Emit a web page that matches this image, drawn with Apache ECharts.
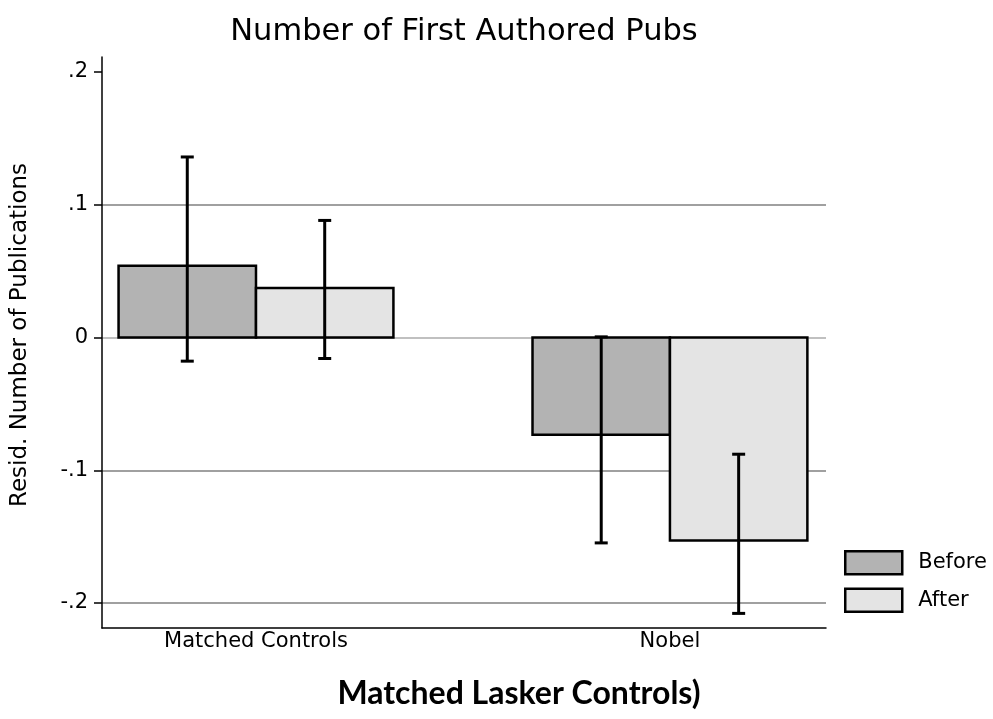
<!DOCTYPE html>
<html>
<head>
<meta charset="utf-8">
<script src="https://cdn.jsdelivr.net/npm/echarts@6/dist/echarts.min.js"></script>
<style>
  html, body { margin: 0; padding: 0; background: #fff; }
  #chart { width: 993px; height: 719px; }
</style>
</head>
<body>
<div id="chart"></div>
<script>
// ---- data ----
const categories = ['Matched Controls', 'Nobel'];
const seriesNames = ['Before', 'After'];
const beforeMean = [0.054, -0.0733];
const beforeLo = [-0.0178, -0.1547];
const beforeHi = [0.136, 0.0005];
const afterMean = [0.0373, -0.1529];
const afterLo = [-0.0158, -0.2078];
const afterHi = [0.0882, -0.0879];
const yTicks = [-0.2, -0.1, 0, 0.1, 0.2];
const titleText = 'Number of First Authored Pubs';
const yAxisTitle = 'Resid. Number of Publications';
const footText = 'Matched Lasker Controls)';

// ---- layout / style ----
const HALF = 0.332;
const FONT = '"DejaVu Sans", sans-serif';
const fills = ['#b3b3b3', '#e4e4e4'];

function fmtTick(v) {
  if (v === 0) return '0';
  const s = String(Math.abs(v)).replace(/^0/, '');
  return (v < 0 ? '-' : '') + s;
}

function buildData(mean, lo, hi) {
  return categories.map((c, i) => [i + 1, mean[i], lo[i], hi[i]]);
}

function makeRender(side, fill) {
  return function (params, api) {
    const x = api.value(0), v = api.value(1), lo = api.value(2), hi = api.value(3);
    const x0 = side < 0 ? x - HALF : x;
    const x1 = side < 0 ? x : x + HALF;
    const p0 = api.coord([x0, v]);
    const p1 = api.coord([x1, 0]);
    const xc = api.coord([(x0 + x1) / 2, 0])[0];
    const yLo = api.coord([x, lo])[1];
    const yHi = api.coord([x, hi])[1];
    const cap = 6.5;
    const errStyle = { stroke: '#000', lineWidth: 3 };
    return {
      type: 'group',
      children: [
        {
          type: 'rect',
          shape: {
            x: Math.min(p0[0], p1[0]), y: Math.min(p0[1], p1[1]),
            width: Math.abs(p1[0] - p0[0]), height: Math.abs(p1[1] - p0[1])
          },
          style: { fill: fill, stroke: '#000', lineWidth: 2.5 }
        },
        { type: 'line', z2: 10, shape: { x1: xc, y1: yHi, x2: xc, y2: yLo }, style: errStyle },
        { type: 'line', z2: 10, shape: { x1: xc - cap, y1: yHi, x2: xc + cap, y2: yHi }, style: errStyle },
        { type: 'line', z2: 10, shape: { x1: xc - cap, y1: yLo, x2: xc + cap, y2: yLo }, style: errStyle }
      ]
    };
  };
}

const chart = echarts.init(document.getElementById('chart'));
chart.setOption({
  animation: false,
  backgroundColor: '#fff',
  title: [
    {
      text: titleText, left: 464, top: 17, textAlign: 'center', padding: 0,
      textStyle: { fontFamily: FONT, fontSize: 30.5, fontWeight: 'normal', color: '#000' }
    },
    {
      text: footText, left: 519, top: 678, textAlign: 'center', padding: 0,
      textStyle: { fontFamily: 'Lato, sans-serif', fontSize: 32, fontWeight: 'bold', color: '#000' }
    }
  ],
  legend: {
    orient: 'vertical', left: 844, top: 550, padding: 0,
    itemWidth: 57, itemHeight: 23, itemGap: 12, icon: 'rect',
    selectedMode: false,
    textStyle: { fontFamily: FONT, fontSize: 21, color: '#000', padding: [0, 0, 0, 11] },
    data: seriesNames.map((n, i) => ({
      name: n, icon: 'rect',
      itemStyle: { color: fills[i], borderColor: '#000', borderWidth: 2.5 }
    }))
  },
  grid: { left: 102, right: 167, top: 57, bottom: 91, containLabel: false },
  xAxis: {
    type: 'value', min: 0.628, max: 2.377,
    axisLine: { show: true, onZero: false, lineStyle: { color: '#000', width: 1.5 } },
    axisTick: { show: false },
    splitLine: { show: false },
    axisLabel: {
      customValues: categories.map((c, i) => i + 1),
      formatter: v => categories[Math.round(v) - 1] || '',
      fontFamily: FONT, fontSize: 21, color: '#000', margin: 3
    }
  },
  yAxis: {
    type: 'value', min: -0.2188, max: 0.2113,
    name: yAxisTitle, nameLocation: 'middle', nameGap: 70,
    nameTextStyle: { fontFamily: FONT, fontSize: 23, color: '#000', padding: [0, 0, 0, 15] },
    axisLine: { show: true, onZero: false, lineStyle: { color: '#000', width: 1.5 } },
    axisTick: { show: true, customValues: yTicks, length: 8, lineStyle: { color: '#000', width: 1.5 } },
    axisLabel: {
      customValues: yTicks, formatter: fmtTick,
      fontFamily: FONT, fontSize: 21, color: '#000', margin: 14
    },
    splitLine: {
      show: true,
      lineStyle: { color: ['#808080', '#808080', '#ababab', '#808080', 'rgba(0,0,0,0)'], width: 1.5 }
    }
  },
  series: [
    {
      name: seriesNames[0], type: 'custom', renderItem: makeRender(-1, fills[0]),
      itemStyle: { color: fills[0] },
      encode: { x: 0, y: [1, 2, 3] },
      data: buildData(beforeMean, beforeLo, beforeHi)
    },
    {
      name: seriesNames[1], type: 'custom', renderItem: makeRender(1, fills[1]),
      itemStyle: { color: fills[1] },
      encode: { x: 0, y: [1, 2, 3] },
      data: buildData(afterMean, afterLo, afterHi)
    }
  ]
});
</script>
</body>
</html>
